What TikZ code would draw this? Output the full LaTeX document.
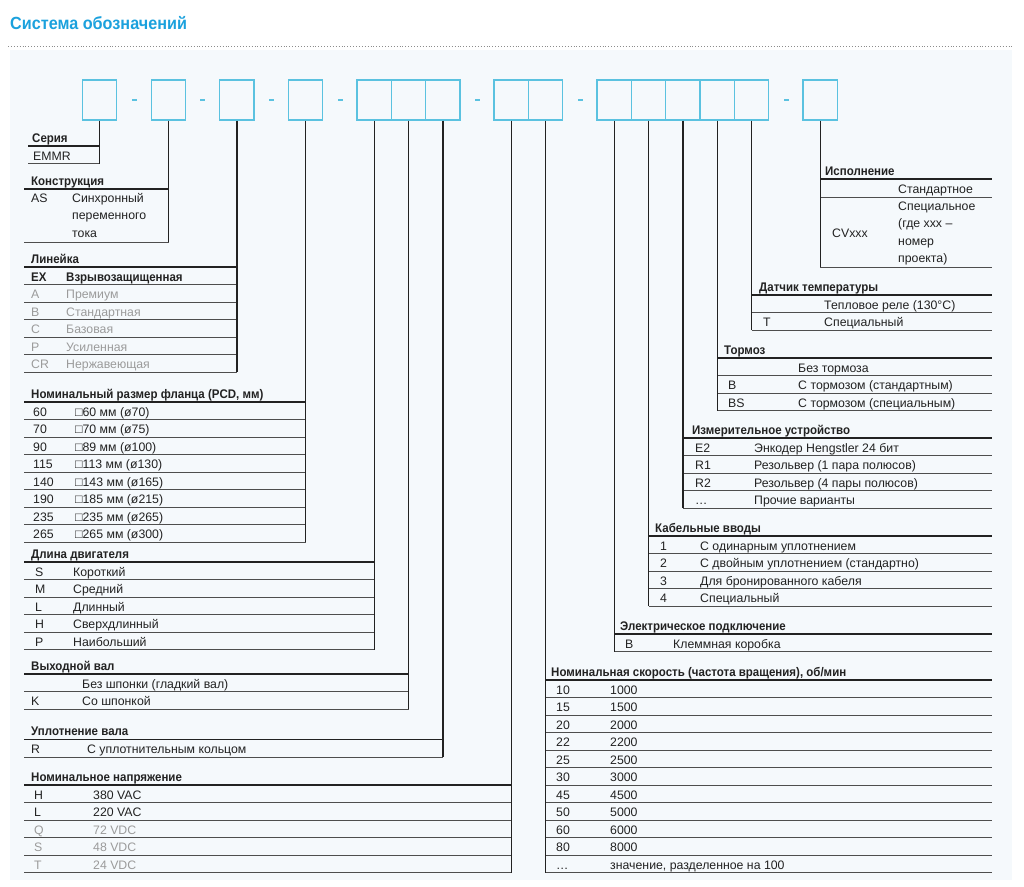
\documentclass[tikz,border=0pt]{standalone}
\usepackage{fontspec}
\setmainfont{Liberation Sans}[BoldFeatures={FakeStretch=0.92}]
\usetikzlibrary{calc}

\definecolor{titleblue}{HTML}{1BA1DD}
\definecolor{boxblue}{HTML}{5BC2E0}
\definecolor{panelbg}{HTML}{F5F9FC}
\definecolor{fadegray}{HTML}{9B9B9B}
\definecolor{ink}{HTML}{222222}

\tikzset{
  codebox/.style={draw=boxblue, line width=1.3pt, minimum width=34.3pt, minimum height=40pt, inner sep=0pt},
  hyph/.style={fill=boxblue, inner sep=0pt, minimum width=5pt, minimum height=1.8pt},
  conn/.style={line width=1.4pt, ink},
  headline/.style={line width=1.8pt, ink},
  rowline/.style={line width=0.8pt, ink!80},
  cell/.style={anchor=base west, inner sep=0pt, text=ink, font=\fontsize{12.3}{14}\selectfont},
  tabtitle/.style={cell, font=\fontsize{12.5}{14}\selectfont\bfseries},
  strong/.style={font=\fontsize{12.5}{14}\selectfont\bfseries},
  faded/.style={text=fadegray},
  norm/.style={},
}

\begin{document}
\begin{tikzpicture}[x=1pt,y=-1pt]
    \def \h {17.5}
    \def \xr {992}
    \useasboundingbox (0,0) rectangle (1024,886);
    \fill[panelbg] (10,50) rectangle (1012,880);
    \draw[black!45, dotted, line width=0.9pt] (8,46) -- (1012,46);
    \node[anchor=base west, inner sep=0pt, text=titleblue, font=\fontsize{17.6}{20}\selectfont\bfseries] (title) at (10,29) {Система обозначений};

    \foreach \n/\x in {1/99.5,2/168.5,3/236.8,4/305.5,5/374.2,6/408.5,7/442.8,8/511.2,9/545.5,10/614.2,11/648.5,12/682.8,13/717.2,14/751.5,15/820.2}
        \node[codebox] (b\n) at (\x,100) {};
    \foreach \n/\x in {1/134,2/202.5,3/271,4/340,5/477,6/580,7/786}
        \node[hyph] (h\n) at (\x,100) {};

    % Серия
    \def \xa {28} \def \xb {99.5} \def \yt {146}
    \node[tabtitle] (ser) at (32,{\yt-4}) {Серия};
    \draw[headline] (\xa,\yt) -- (\xb,\yt);
    \node[cell] (ser-c1) at (33,{\yt+\h-3.5}) {EMMR};
    \draw[rowline] (\xa,{\yt+\h}) -- (\xb,{\yt+\h});
    \coordinate (ser-end) at (\xb,{\yt+\h});
    \draw[conn] (b1.south) -- (ser-end);

    % Конструкция
    \def \xa {24} \def \xb {168.5} \def \yt {189}
    \node[tabtitle] (kon) at (31,{\yt-4}) {Конструкция};
    \draw[headline] (\xa,\yt) -- (\xb,\yt);
    \node[cell] (kon-c1) at (31,{\yt+13}) {AS};
    \foreach \d [count=\i] in {Синхронный,переменного,тока}
        \node[cell] (kon-d\i) at (72,{\yt+13+(\i-1)*\h}) {\d};
    \draw[rowline] (\xa,242) -- (\xb,242);
    \coordinate (kon-end) at (\xb,242);
    \draw[conn] (b2.south) -- (kon-end);

    % Линейка
    \def \xa {24} \def \xb {236.8} \def \yt {267}
    \node[tabtitle] (lin) at (31,{\yt-4}) {Линейка};
    \draw[headline] (\xa,\yt) -- (\xb,\yt);
    \foreach \c/\d/\s [count=\i] in {EX/Взрывозащищенная/strong,A/Премиум/faded,B/Стандартная/faded,C/Базовая/faded,P/Усиленная/faded,CR/Нержавеющая/faded}
    {
        \node[cell,\s] (lin-c\i) at (31,{\yt+\i*\h-3.5}) {\c};
        \node[cell,\s] (lin-d\i) at (66,{\yt+\i*\h-3.5}) {\d};
        \draw[rowline] (\xa,{\yt+\i*\h}) -- (\xb,{\yt+\i*\h});
    }
    \coordinate (lin-end) at (\xb,{\yt+6*\h});
    \draw[conn] (b3.south) -- (lin-end);

    % Фланец
    \def \xa {24} \def \xb {305.5} \def \yt {402}
    \node[tabtitle] (fla) at (31,{\yt-4}) {Номинальный размер фланца (PCD, мм)};
    \draw[headline] (\xa,\yt) -- (\xb,\yt);
    \foreach \c/\d [count=\i] in {60/□60 мм (ø70),70/□70 мм (ø75),90/□89 мм (ø100),115/□113 мм (ø130),140/□143 мм (ø165),190/□185 мм (ø215),235/□235 мм (ø265),265/□265 мм (ø300)}
    {
        \node[cell] (fla-c\i) at (33,{\yt+\i*\h-3.5}) {\c};
        \node[cell] (fla-d\i) at (75,{\yt+\i*\h-3.5}) {\d};
        \draw[rowline] (\xa,{\yt+\i*\h}) -- (\xb,{\yt+\i*\h});
    }
    \coordinate (fla-end) at (\xb,{\yt+8*\h});
    \draw[conn] (b4.south) -- (fla-end);

    % Длина двигателя
    \def \xa {24} \def \xb {374.2} \def \yt {562}
    \node[tabtitle] (dli) at (31,{\yt-4}) {Длина двигателя};
    \draw[headline] (\xa,\yt) -- (\xb,\yt);
    \foreach \c/\d [count=\i] in {S/Короткий,M/Средний,L/Длинный,H/Сверхдлинный,P/Наибольший}
    {
        \node[cell] (dli-c\i) at (35,{\yt+\i*\h-3.5}) {\c};
        \node[cell] (dli-d\i) at (73,{\yt+\i*\h-3.5}) {\d};
        \draw[rowline] (\xa,{\yt+\i*\h}) -- (\xb,{\yt+\i*\h});
    }
    \coordinate (dli-end) at (\xb,{\yt+5*\h});
    \draw[conn] (b5.south) -- (dli-end);

    % Выходной вал
    \def \xa {24} \def \xb {408.5} \def \yt {674}
    \node[tabtitle] (vyh) at (31,{\yt-4}) {Выходной вал};
    \draw[headline] (\xa,\yt) -- (\xb,\yt);
    \foreach \c/\d [count=\i] in {{}/Без шпонки (гладкий вал),K/Со шпонкой}
    {
        \node[cell] (vyh-c\i) at (31,{\yt+\i*\h-3.5}) {\c};
        \node[cell] (vyh-d\i) at (82,{\yt+\i*\h-3.5}) {\d};
        \draw[rowline] (\xa,{\yt+\i*\h}) -- (\xb,{\yt+\i*\h});
    }
    \coordinate (vyh-end) at (\xb,{\yt+2*\h});
    \draw[conn] (b6.south) -- (vyh-end);

    % Уплотнение вала
    \def \xa {24} \def \xb {442.8} \def \yt {739.5}
    \node[tabtitle] (upl) at (31,{\yt-4}) {Уплотнение вала};
    \draw[headline] (\xa,\yt) -- (\xb,\yt);
    \node[cell] (upl-c1) at (31,{\yt+\h-3.5}) {R};
    \node[cell] (upl-d1) at (87,{\yt+\h-3.5}) {С уплотнительным кольцом};
    \draw[rowline] (\xa,{\yt+\h}) -- (\xb,{\yt+\h});
    \coordinate (upl-end) at (\xb,{\yt+\h});
    \draw[conn] (b7.south) -- (upl-end);

    % Номинальное напряжение
    \def \xa {24} \def \xb {511.2} \def \yt {785}
    \node[tabtitle] (nap) at (31,{\yt-4}) {Номинальное напряжение};
    \draw[headline] (\xa,\yt) -- (\xb,\yt);
    \foreach \c/\d/\s [count=\i] in {H/380 VAC/norm,L/220 VAC/norm,Q/72 VDC/faded,S/48 VDC/faded,T/24 VDC/faded}
    {
        \node[cell,\s] (nap-c\i) at (34,{\yt+\i*\h-3.5}) {\c};
        \node[cell,\s] (nap-d\i) at (93,{\yt+\i*\h-3.5}) {\d};
        \draw[rowline] (\xa,{\yt+\i*\h}) -- (\xb,{\yt+\i*\h});
    }
    \coordinate (nap-end) at (\xb,{\yt+5*\h});
    \draw[conn] (b8.south) -- (nap-end);

    % Номинальная скорость
    \def \xa {545.5} \def \yt {680}
    \node[tabtitle] (skr) at (551,{\yt-4}) {Номинальная скорость (частота вращения), об/мин};
    \draw[headline] (\xa,\yt) -- (\xr,\yt);
    \foreach \c/\d [count=\i] in {10/1000,15/1500,20/2000,22/2200,25/2500,30/3000,45/4500,50/5000,60/6000,80/8000,…/{значение, разделенное на 100}}
    {
        \node[cell] (skr-c\i) at (556,{\yt+\i*\h-3.5}) {\c};
        \node[cell] (skr-d\i) at (610,{\yt+\i*\h-3.5}) {\d};
        \draw[rowline] (\xa,{\yt+\i*\h}) -- (\xr,{\yt+\i*\h});
    }
    \coordinate (skr-end) at (\xa,{\yt+11*\h});
    \draw[conn] (b9.south) -- (skr-end);

    % Электрическое подключение
    \def \xa {614.2} \def \yt {634}
    \node[tabtitle] (ele) at (620,{\yt-4}) {Электрическое подключение};
    \draw[headline] (\xa,\yt) -- (\xr,\yt);
    \node[cell] (ele-c1) at (625,{\yt+\h-3.5}) {B};
    \node[cell] (ele-d1) at (673,{\yt+\h-3.5}) {Клеммная коробка};
    \draw[rowline] (\xa,{\yt+\h}) -- (\xr,{\yt+\h});
    \coordinate (ele-end) at (\xa,{\yt+\h});
    \draw[conn] (b10.south) -- (ele-end);

    % Кабельные вводы
    \def \xa {648.5} \def \yt {536}
    \node[tabtitle] (kab) at (655,{\yt-4}) {Кабельные вводы};
    \draw[headline] (\xa,\yt) -- (\xr,\yt);
    \foreach \c/\d [count=\i] in {1/С одинарным уплотнением,2/С двойным уплотнением (стандартно),3/Для бронированного кабеля,4/Специальный}
    {
        \node[cell] (kab-c\i) at (660,{\yt+\i*\h-3.5}) {\c};
        \node[cell] (kab-d\i) at (700,{\yt+\i*\h-3.5}) {\d};
        \draw[rowline] (\xa,{\yt+\i*\h}) -- (\xr,{\yt+\i*\h});
    }
    \coordinate (kab-end) at (\xa,{\yt+4*\h});
    \draw[conn] (b11.south) -- (kab-end);

    % Измерительное устройство
    \def \xa {682.8} \def \yt {438}
    \node[tabtitle] (izm) at (692,{\yt-4}) {Измерительное устройство};
    \draw[headline] (\xa,\yt) -- (\xr,\yt);
    \foreach \c/\d [count=\i] in {E2/Энкодер Hengstler 24 бит,R1/Резольвер (1 пара полюсов),R2/Резольвер (4 пары полюсов),…/Прочие варианты}
    {
        \node[cell] (izm-c\i) at (695,{\yt+\i*\h-3.5}) {\c};
        \node[cell] (izm-d\i) at (754,{\yt+\i*\h-3.5}) {\d};
        \draw[rowline] (\xa,{\yt+\i*\h}) -- (\xr,{\yt+\i*\h});
    }
    \coordinate (izm-end) at (\xa,{\yt+4*\h});
    \draw[conn] (b12.south) -- (izm-end);

    % Тормоз
    \def \xa {717.2} \def \yt {358}
    \node[tabtitle] (tor) at (724,{\yt-4}) {Тормоз};
    \draw[headline] (\xa,\yt) -- (\xr,\yt);
    \foreach \c/\d [count=\i] in {{}/Без тормоза,B/С тормозом (стандартным),BS/С тормозом (специальным)}
    {
        \node[cell] (tor-c\i) at (728,{\yt+\i*\h-3.5}) {\c};
        \node[cell] (tor-d\i) at (798,{\yt+\i*\h-3.5}) {\d};
        \draw[rowline] (\xa,{\yt+\i*\h}) -- (\xr,{\yt+\i*\h});
    }
    \coordinate (tor-end) at (\xa,{\yt+3*\h});
    \draw[conn] (b13.south) -- (tor-end);

    % Датчик температуры
    \def \xa {751.5} \def \yt {295}
    \node[tabtitle] (dat) at (759,{\yt-4}) {Датчик температуры};
    \draw[headline] (\xa,\yt) -- (\xr,\yt);
    \foreach \c/\d [count=\i] in {{}/Тепловое реле (130°C),T/Специальный}
    {
        \node[cell] (dat-c\i) at (763,{\yt+\i*\h-3.5}) {\c};
        \node[cell] (dat-d\i) at (824,{\yt+\i*\h-3.5}) {\d};
        \draw[rowline] (\xa,{\yt+\i*\h}) -- (\xr,{\yt+\i*\h});
    }
    \coordinate (dat-end) at (\xa,{\yt+2*\h});
    \draw[conn] (b14.south) -- (dat-end);

    % Исполнение
    \def \xa {820.2} \def \yt {179}
    \node[tabtitle] (isp) at (825,{\yt-4}) {Исполнение};
    \draw[headline] (\xa,\yt) -- (\xr,\yt);
    \node[cell] (isp-d1) at (898,193.5) {Стандартное};
    \draw[rowline] (\xa,197) -- (\xr,197);
    \node[cell] (isp-c2) at (832,237) {CVxxx};
    \node[cell] (isp-d2) at (898,210) {Специальное};
    \node[cell] (isp-d3) at (898,227.5) {(где xxx –};
    \node[cell] (isp-d4) at (898,245) {номер};
    \node[cell] (isp-d5) at (898,262.5) {проекта)};
    \draw[rowline] (\xa,267) -- (\xr,267);
    \coordinate (isp-end) at (\xa,267);
    \draw[conn] (b15.south) -- (isp-end);
\end{tikzpicture}
\end{document}
